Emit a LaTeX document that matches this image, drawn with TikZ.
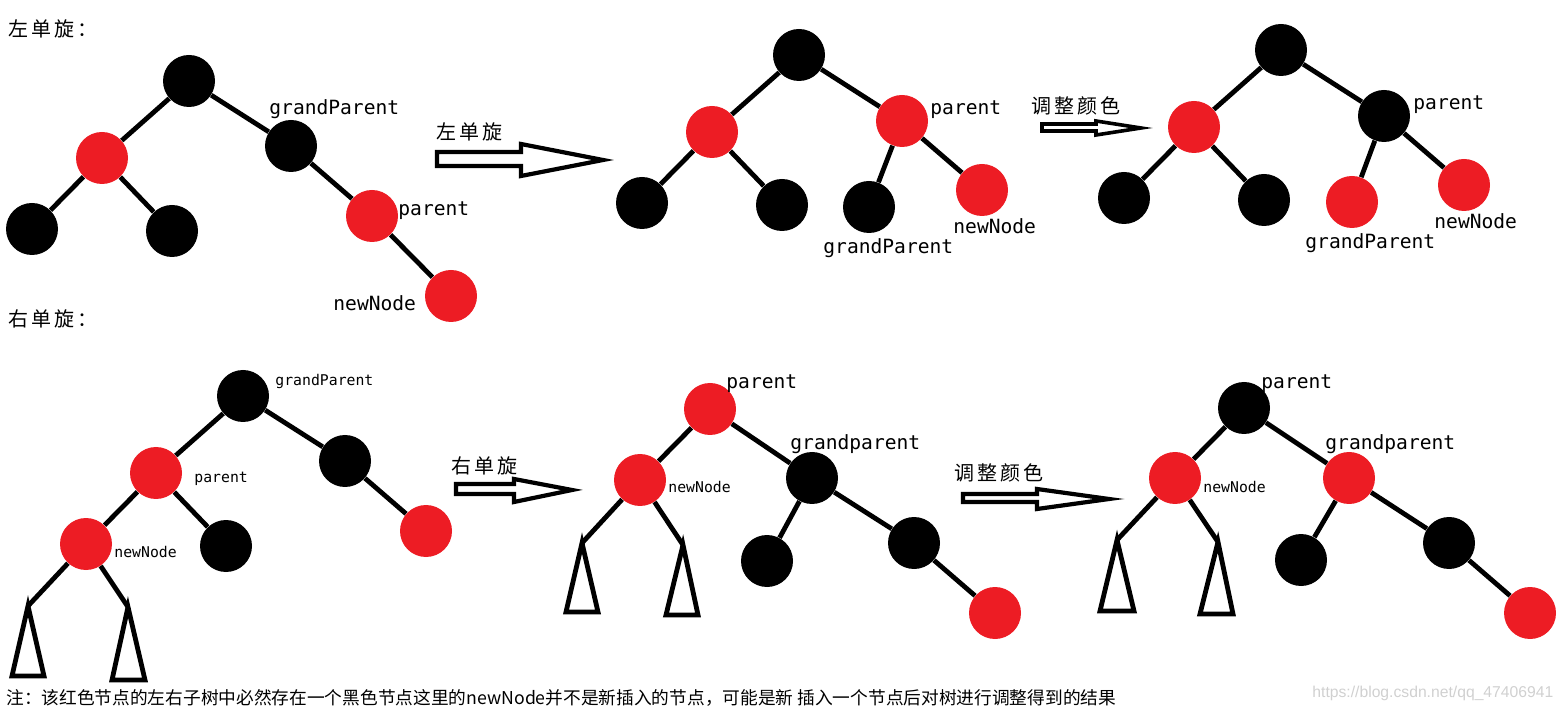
\documentclass[tikz,border=0pt]{standalone}
\usepackage{fontspec}
\newfontfamily\cjk[LetterSpace=15]{Noto Sans CJK SC}
\newfontfamily\cjknote{Noto Sans CJK SC}
\newfontfamily\mono{DejaVu Sans Mono}
\newfontfamily\wmfont{Liberation Sans}
\definecolor{rbred}{HTML}{ED1C24}
\definecolor{wmgray}{HTML}{D0D0D0}
\tikzset{
  rb/.style={circle, fill=rbred, minimum size=26pt, inner sep=0pt},
  bk/.style={circle, fill=black, minimum size=26pt, inner sep=0pt},
  edge/.style={line width=2.4pt},
  tri/.style={line width=2.4pt, line join=miter},
  lbl/.style={font=\mono\fontsize{9.8}{10}\selectfont, anchor=west, inner sep=0pt},
  slbl/.style={font=\mono\fontsize{7.4}{8}\selectfont, anchor=west, inner sep=0pt},
  cj/.style={font=\cjk\fontsize{10}{12}\selectfont, anchor=west, inner sep=0pt},
  barrow/.style={line width=2.1pt, fill=white, line join=miter},
}
\begin{document}
\begin{tikzpicture}[x=0.5pt,y=-0.5pt]
\useasboundingbox (0,0) rectangle (1562,710);

% ---------- headings ----------
\node[cj] (h1) at (8,29) {左单旋：};
\node[cj] (h2) at (8,319) {右单旋：};

% ---------- top-left tree ----------
\node[bk] (a1) at (189,81) {};
\node[rb] (a2) at (102,158) {};
\node[bk] (a3) at (291,146) {};
\node[bk] (a4) at (32,229) {};
\node[bk] (a5) at (172,231) {};
\node[rb] (a6) at (372,216) {};
\node[rb] (a7) at (451,296) {};
\draw[edge] (a1) -- (a2); \draw[edge] (a1) -- (a3);
\draw[edge] (a2) -- (a4); \draw[edge] (a2) -- (a5);
\draw[edge] (a3) -- (a6); \draw[edge] (a6) -- (a7);
\node[lbl] (la3) at (269,109) {grandParent};
\node[lbl] (la6) at (398,211) {parent};
\node[lbl] (la7) at (333,303) {newNode};

% arrow 1
\draw[barrow] (437,152) -- (521,152) -- (521,144) -- (603,160) -- (521,176) -- (521,166) -- (437,166) -- cycle;
\node[cj] (t1) at (436,132) {左单旋};

% ---------- top-middle tree ----------
\node[bk] (b1) at (799,55) {};
\node[rb] (b2) at (712,132) {};
\node[rb] (b3) at (902,121) {};
\node[bk] (b4) at (642,203) {};
\node[bk] (b5) at (782,205) {};
\node[bk] (b6) at (869,207) {};
\node[rb] (b7) at (982,190) {};
\draw[edge] (b1) -- (b2); \draw[edge] (b1) -- (b3);
\draw[edge] (b2) -- (b4); \draw[edge] (b2) -- (b5);
\draw[edge] (b3) -- (b6); \draw[edge] (b3) -- (b7);
\node[lbl] (lb3) at (930,110) {parent};
\node[lbl] (lb7) at (953,226) {newNode};
\node[lbl] (lb6) at (823,248) {grandParent};

% arrow 2
\draw[barrow, line width=1.8pt] (1042,124) -- (1096,124) -- (1096,121) -- (1141,128) -- (1096,135) -- (1096,131) -- (1042,131) -- cycle;
\node[cj] (t2) at (1031,106) {调整颜色};

% ---------- top-right tree ----------
\node[bk] (c1) at (1281,50) {};
\node[rb] (c2) at (1194,127) {};
\node[bk] (c3) at (1384,116) {};
\node[bk] (c4) at (1124,198) {};
\node[bk] (c5) at (1264,200) {};
\node[rb] (c6) at (1352,202) {};
\node[rb] (c7) at (1464,185) {};
\draw[edge] (c1) -- (c2); \draw[edge] (c1) -- (c3);
\draw[edge] (c2) -- (c4); \draw[edge] (c2) -- (c5);
\draw[edge] (c3) -- (c6); \draw[edge] (c3) -- (c7);
\node[lbl] (lc3) at (1413,105) {parent};
\node[lbl] (lc7) at (1434,221) {newNode};
\node[lbl] (lc6) at (1305,243) {grandParent};

% ---------- bottom-left tree ----------
\node[bk] (d1) at (243,396) {};
\node[rb] (d2) at (156,473) {};
\node[bk] (d3) at (345,461) {};
\node[rb] (d4) at (86,544) {};
\node[bk] (d5) at (226,546) {};
\node[rb] (d6) at (426,531) {};
\coordinate (d7) at (28,606);
\coordinate (d8) at (128,607);
\draw[edge] (d1) -- (d2); \draw[edge] (d1) -- (d3);
\draw[edge] (d2) -- (d4); \draw[edge] (d2) -- (d5);
\draw[edge] (d3) -- (d6);
\draw[edge] (d4) -- (d7); \draw[edge] (d4) -- (d8);
\draw[tri] (d7) -- (44,676) -- (12,676) -- cycle;
\draw[tri] (d8) -- (145,680) -- (112,680) -- cycle;
\node[slbl] (ld1) at (275,381) {grandParent};
\node[slbl] (ld2) at (194,479) {parent};
\node[slbl] (ld4) at (114,552) {newNode};

% arrow 3
\draw[barrow] (456,484) -- (514,484) -- (514,479) -- (572,490) -- (514,502) -- (514,494) -- (456,494) -- cycle;
\node[cj] (t3) at (451,466) {右单旋};

% ---------- bottom-middle tree ----------
\node[rb] (e1) at (710,409) {};
\node[rb] (e2) at (640,480) {};
\node[bk] (e3) at (812,478) {};
\node[bk] (e4) at (767,561) {};
\node[bk] (e5) at (914,543) {};
\node[rb] (e6) at (995,613) {};
\coordinate (e7) at (582,543);
\coordinate (e8) at (683,545);
\draw[edge] (e1) -- (e2); \draw[edge] (e1) -- (e3);
\draw[edge] (e3) -- (e4); \draw[edge] (e3) -- (e5);
\draw[edge] (e5) -- (e6);
\draw[edge] (e2) -- (e7); \draw[edge] (e2) -- (e8);
\draw[tri] (e7) -- (598,612) -- (566,612) -- cycle;
\draw[tri] (e8) -- (698,615) -- (666,615) -- cycle;
\node[lbl] (le1) at (726,384) {parent};
\node[lbl] (le3) at (790,444) {grandparent};
\node[slbl] (le2) at (668,487) {newNode};

% arrow 4
\draw[barrow] (963,494) -- (1037,494) -- (1037,489) -- (1109,499) -- (1037,509) -- (1037,502) -- (963,502) -- cycle;
\node[cj] (t4) at (954,473) {调整颜色};

% ---------- bottom-right tree ----------
\node[bk] (f1) at (1244,408) {};
\node[rb] (f2) at (1175,478) {};
\node[rb] (f3) at (1349,478) {};
\node[bk] (f4) at (1301,560) {};
\node[bk] (f5) at (1449,543) {};
\node[rb] (f6) at (1530,613) {};
\coordinate (f7) at (1117,540);
\coordinate (f8) at (1218,542);
\draw[edge] (f1) -- (f2); \draw[edge] (f1) -- (f3);
\draw[edge] (f3) -- (f4); \draw[edge] (f3) -- (f5);
\draw[edge] (f5) -- (f6);
\draw[edge] (f2) -- (f7); \draw[edge] (f2) -- (f8);
\draw[tri] (f7) -- (1134,611) -- (1100,611) -- cycle;
\draw[tri] (f8) -- (1233,614) -- (1200,614) -- cycle;
\node[lbl] (lf1) at (1261,384) {parent};
\node[lbl] (lf3) at (1325,444) {grandparent};
\node[slbl] (lf2) at (1203,487) {newNode};

% ---------- note & watermark ----------
\node[font=\cjknote\fontsize{8.85}{10}\selectfont, anchor=west, inner sep=0pt] (note) at (6,698)
  {注：该红色节点的左右子树中必然存在一个黑色节点这里的newNode并不是新插入的节点，可能是新 插入一个节点后对树进行调整得到的结果};
\node[font=\wmfont\fontsize{7.85}{8}\selectfont, text=wmgray, anchor=west, inner sep=0pt] (wm) at (1312,693)
  {https://blog.csdn.net/qq\_47406941};
\end{tikzpicture}
\end{document}
